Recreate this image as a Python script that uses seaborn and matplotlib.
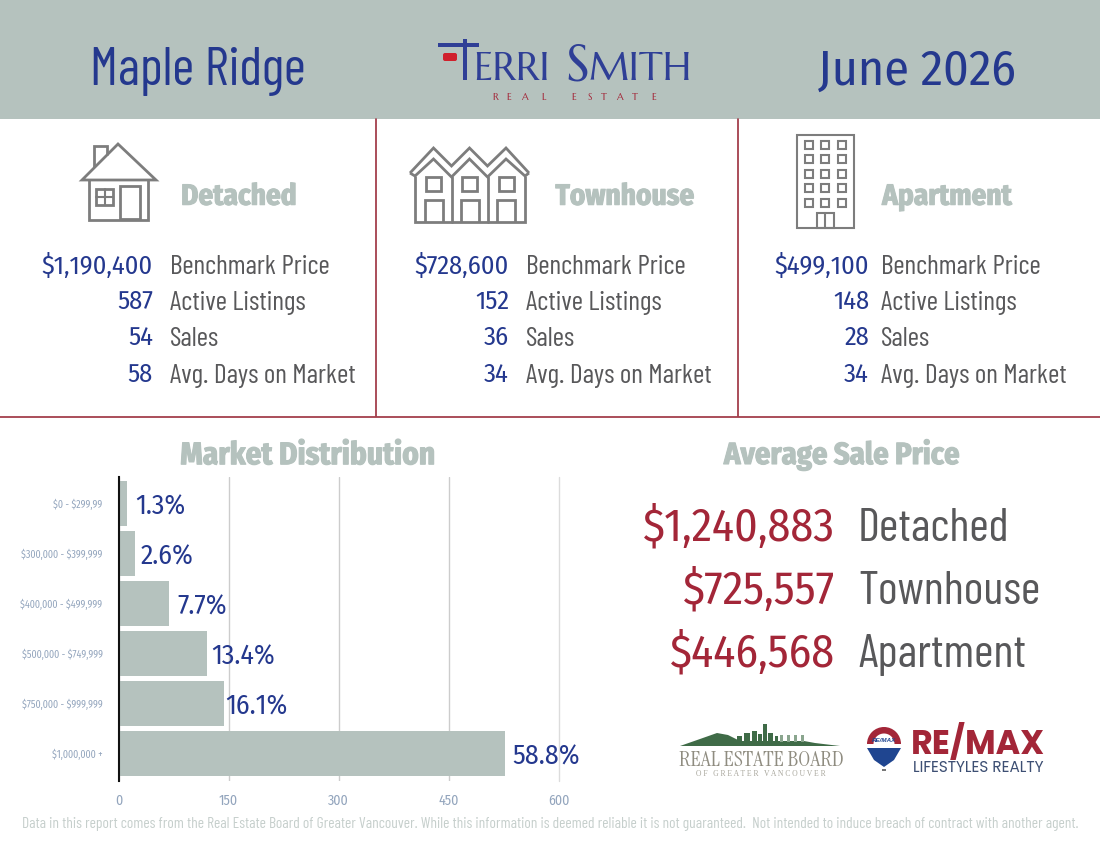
"""Maple Ridge market snapshot, June 2026."""
import matplotlib
matplotlib.use("Agg")
import matplotlib.pyplot as plt
import matplotlib.patheffects as pe
from matplotlib.patches import FancyBboxPatch, Polygon, Rectangle, Wedge
import pandas as pd
import seaborn as sns

# Data
PRICE_RANGES = ["$0 - $299,99", "$300,000 - $399,999", "$400,000 - $499,999",
                "$500,000 - $749,999", "$750,000 - $999,999", "$1,000,000 +"]
RANGE_COUNTS = [12, 23, 69, 120, 144, 527]
RANGE_SHARES = ["1.3%", "2.6%", "7.7%", "13.4%", "16.1%", "58.8%"]
X_TICKS = [0, 150, 300, 450, 600]

PROPERTY_TYPES = ["Detached", "Townhouse", "Apartment"]
STAT_LABELS = ["Benchmark Price", "Active Listings", "Sales", "Avg. Days on Market"]
DETACHED_STATS = ["$1,190,400", "587", "54", "58"]
TOWNHOUSE_STATS = ["$728,600", "152", "36", "34"]
APARTMENT_STATS = ["$499,100", "148", "28", "34"]
SALE_PRICES = ["$1,240,883", "$725,557", "$446,568"]

FOOTER = ("Data in this report comes from the Real Estate Board of Greater Vancouver. "
          "While this information is deemed reliable it is not guaranteed.  "
          "Not intended to induce breach of contract with another agent.")

# Styling
SAGE = "#b5c2be"
BLUE = "#24388e"
RED = "#a32638"
LINE_RED = "#9c2f3d"
GREY_TEXT = "#58585a"
ICON = "#7d7d7d"
TICK_BLUE = "#93a5bd"
NARROW = ["Fira Sans Condensed", "Roboto Condensed", "DejaVu Sans"]
XNARROW = ["Barlow Condensed", "Fira Sans Extra Condensed", "DejaVu Sans"]
LOGO_FONT = ["Marcellus", "Lato", "DejaVu Sans"]
BOARD_FONT = ["Instrument Serif", "Liberation Serif"]
REMAX_FONT = ["Poppins", "Liberation Sans"]
LABEL_PADS = [6, 4, 6, 3, 1, 5]

W, H = 1100, 850


def heading(ax, x, y, text, size):
    """Fat sage heading, the stroke thickens the bold face a bit more."""
    t = ax.text(x, y, text, color=SAGE, fontsize=size, fontweight="bold",
                family=NARROW, ha="center", va="center")
    t.set_path_effects([pe.withStroke(linewidth=0.8, foreground=SAGE)])


def draw_house(ax):
    kw = dict(fill=False, edgecolor=ICON, linewidth=2)
    ax.add_patch(Polygon([(93.5, 167), (93.5, 146), (107, 146), (107, 155)], closed=False, **kw))
    ax.add_patch(Polygon([(82, 180), (118, 144), (156, 180)], closed=True, **kw))
    ax.add_patch(Polygon([(88.5, 180), (88.5, 219.5), (148, 219.5), (148, 180)], closed=False, **kw))
    ax.add_patch(Rectangle((96, 189), 17, 16, **kw))
    ax.plot([104.5, 104.5], [189, 205], color=ICON, lw=1.5)
    ax.plot([96, 113], [197, 197], color=ICON, lw=1.5)
    ax.add_patch(Rectangle((120, 186), 20, 33, **kw))


def draw_townhouse(ax):
    kw = dict(fill=False, edgecolor=ICON, linewidth=2)
    outer = [(410, 173), (433.5, 148), (451.5, 166), (469.5, 148), (487.5, 166), (506, 148), (529, 173)]
    inner = [(410, 173), (415, 176), (433.5, 159), (451.5, 177), (469.5, 159), (487.5, 177), (506, 159), (525, 176), (529, 173)]
    ax.add_patch(Polygon(outer, closed=False, **kw))
    ax.add_patch(Polygon(inner, closed=False, **kw))
    ax.add_patch(Polygon([(415, 176), (415, 222), (525, 222), (525, 176)], closed=False, **kw))
    for x_wall in [451.5, 487.5]:
        ax.plot([x_wall, x_wall], [177, 222], color=ICON, lw=2)
    for x_mid in [433.5, 469.5, 506]:
        ax.add_patch(Rectangle((x_mid - 7.5, 177), 15, 14, **kw))
        ax.add_patch(Polygon([(x_mid - 9, 222), (x_mid - 9, 200), (x_mid + 9, 200), (x_mid + 9, 222)],
                             closed=False, **kw))


def draw_apartment(ax):
    kw = dict(fill=False, edgecolor=ICON, linewidth=1.5)
    ax.add_patch(Rectangle((797, 135), 56.5, 93, **kw))
    for x_mid in [808.5, 825, 841.5]:
        for y_mid in [145, 159, 174, 188, 203]:
            ax.add_patch(Rectangle((x_mid - 4, y_mid - 4), 8, 8, **kw))
    ax.add_patch(Rectangle((817, 213), 16.5, 15, **kw))
    ax.plot([825, 825], [213, 228], color=ICON, lw=1.5)


def draw_terri_logo(ax):
    navy = "#2f3f96"
    ax.add_patch(Rectangle((438, 42.5), 41, 4.5, color=navy, lw=0))
    ax.add_patch(Rectangle((463, 38.5), 4, 41, color=navy, lw=0))
    ax.add_patch(FancyBboxPatch((443, 53), 14, 8, boxstyle="round,pad=0,rounding_size=2",
                                color="#d0202c", lw=0))
    ax.text(473, 80, "ERRI", color=navy, fontsize=28.5, family=LOGO_FONT, ha="left", va="baseline")
    ax.text(565, 80, "S", color=navy, fontsize=38, family=LOGO_FONT, ha="left", va="baseline")
    ax.text(589, 80, "MITH", color=navy, fontsize=28.5, family=LOGO_FONT, ha="left", va="baseline")
    for x_pos, letter in zip([495, 509, 524, 544, 574, 590, 604, 619, 635, 654],
                             "REALESTATE"):
        ax.text(x_pos, 97, letter, color=RED, fontsize=7, family=LOGO_FONT, ha="center", va="center")


def draw_board_logo(ax):
    green = "#3f6b47"
    ax.add_patch(Polygon([(680, 746), (700, 739), (717, 733), (728, 735), (740, 741),
                          (790, 741), (804, 741), (815, 743), (840, 746)], closed=True,
                         color=green, lw=0))
    for x_left, y_top, width in [(737, 736, 5), (744, 733, 6), (752, 731, 5), (758, 734, 4),
                                 (763, 724, 4), (768, 733, 5), (775, 736, 3)]:
        ax.add_patch(Rectangle((x_left, y_top), width, 746 - y_top, color=green, lw=0))
    for x_left in [780, 787, 794, 801]:
        ax.add_patch(Rectangle((x_left, 735), 3, 7, color="#8aa58e", lw=0))
    ax.text(761, 760, "REAL ESTATE BOARD", color="#8f8c80", fontsize=16,
            family=BOARD_FONT, ha="center", va="center")
    ax.text(761, 774, "O F   G R E A T E R   V A N C O U V E R", color="#a8a69c",
            fontsize=5.5, family=["Liberation Serif"], ha="center", va="center")


def draw_remax_logo(ax):
    # page axes run downward, so the wedge angles are mirrored
    ax.add_patch(Wedge((884, 744), 17, 180, 360, width=6.5, color=RED, lw=0))
    ax.add_patch(Polygon([(867, 748), (901, 748), (894, 760), (884, 767), (874, 760)],
                         closed=True, color="#1f4590", lw=0))
    ax.text(884, 741, "RE/MAX", color="#1f4590", fontsize=4.5, fontweight="bold",
            family=["Liberation Sans"], ha="center", va="center", style="italic")
    ax.add_patch(Rectangle((882, 769), 4, 2, color="#777777", lw=0))
    ax.text(978, 744, "RE/MAX", color=RED, fontsize=24, fontweight="bold",
            family=REMAX_FONT, ha="center", va="center")
    ax.text(978, 768, "LIFESTYLES REALTY", color="#3d4f73", fontsize=11,
            family=REMAX_FONT, ha="center", va="center")


def draw_page(ax):
    ax.set_xlim(0, W)
    ax.set_ylim(H, 0)
    ax.axis("off")

    ax.add_patch(Rectangle((0, 0), W, 119, color=SAGE, lw=0))
    ax.text(198, 71, "Maple Ridge", color=BLUE, fontsize=38.5, family=XNARROW, ha="center", va="center")
    ax.text(917, 71, "June 2026", color=BLUE, fontsize=36, family=NARROW, ha="center", va="center")
    draw_terri_logo(ax)

    ax.plot([0, W], [416.5, 416.5], color=LINE_RED, lw=1.2)
    for x_line in [376, 738]:
        ax.plot([x_line, x_line], [119, 416], color=LINE_RED, lw=1.2)

    draw_house(ax)
    draw_townhouse(ax)
    draw_apartment(ax)
    for x_mid, name in zip([239, 625, 947], PROPERTY_TYPES):
        heading(ax, x_mid, 197, name, 21)

    columns = [(153, 170, DETACHED_STATS), (509, 526, TOWNHOUSE_STATS), (869, 881, APARTMENT_STATS)]
    for x_num, x_label, stats in columns:
        for y_row, value, label in zip([266, 302, 338, 375], stats, STAT_LABELS):
            ax.text(x_num, y_row, value, color=BLUE, fontsize=19, family=NARROW, ha="right", va="center")
            ax.text(x_label, y_row + 1, label, color=GREY_TEXT, fontsize=19.8, family=XNARROW, ha="left", va="center")

    heading(ax, 308, 456, "Market Distribution", 22.5)
    heading(ax, 842, 455, "Average Sale Price", 22)

    for y_row, price, name in zip([527, 590, 653], SALE_PRICES, PROPERTY_TYPES):
        ax.text(835, y_row, price, color=RED, fontsize=33, family=NARROW, ha="right", va="center")
        ax.text(858, y_row + 2, name, color=GREY_TEXT, fontsize=34, family=XNARROW, ha="left", va="center")

    draw_board_logo(ax)
    draw_remax_logo(ax)
    ax.text(550, 824, FOOTER, color="#c6cfcc", fontsize=11.15, family=XNARROW, ha="center", va="center")


def draw_bars(ax):
    df = pd.DataFrame({"price_range": PRICE_RANGES, "count": RANGE_COUNTS})
    sns.barplot(data=df, x="count", y="price_range", color=SAGE, saturation=1,
                width=0.9, linewidth=0, ax=ax)
    ax.patch.set_alpha(0)
    ax.set_xlim(0, 600)
    ax.set_ylim(5.55, -0.53)
    ax.set_xlabel("")
    ax.set_ylabel("")
    ax.set_xticks(X_TICKS)
    ax.grid(True, axis="x", color="#cccccc", lw=1)
    ax.grid(False, axis="y")
    ax.set_axisbelow(True)
    last_grid = ax.xaxis.get_gridlines()[-1]
    last_grid.set_color("#dcdcdc")
    last_grid.set_clip_on(False)
    for side in ["top", "right", "bottom"]:
        ax.spines[side].set_visible(False)
    ax.spines["left"].set_color("#111111")
    ax.spines["left"].set_linewidth(1.5)
    ax.tick_params(axis="x", length=0, pad=9, labelsize=10, labelcolor=TICK_BLUE)
    ax.tick_params(axis="y", length=0, pad=11.5, labelsize=7.2, labelcolor=TICK_BLUE)
    for tick in ax.get_xticklabels() + ax.get_yticklabels():
        tick.set_fontfamily(NARROW)
    for bar, share, pad in zip(ax.containers[0], RANGE_SHARES, LABEL_PADS):
        ax.annotate(share, (bar.get_width(), bar.get_y() + bar.get_height() / 2),
                    xytext=(pad, -2), textcoords="offset points", color=BLUE,
                    fontsize=20, family=NARROW, ha="left", va="center", clip_on=False)


def main():
    sns.set_theme(style="whitegrid")
    plt.rcParams["font.family"] = NARROW
    plt.rcParams["text.parse_math"] = False

    fig = plt.figure(figsize=(W / 100, H / 100), dpi=100, facecolor="white")
    page = fig.add_axes([0, 0, 1, 1])
    draw_page(page)

    bars = fig.add_axes([118.5 / W, 1 - 781 / H, 440.5 / W, 304 / H])
    draw_bars(bars)

    fig.savefig("out.png", dpi=100)
    plt.close(fig)


if __name__ == "__main__":
    main()
